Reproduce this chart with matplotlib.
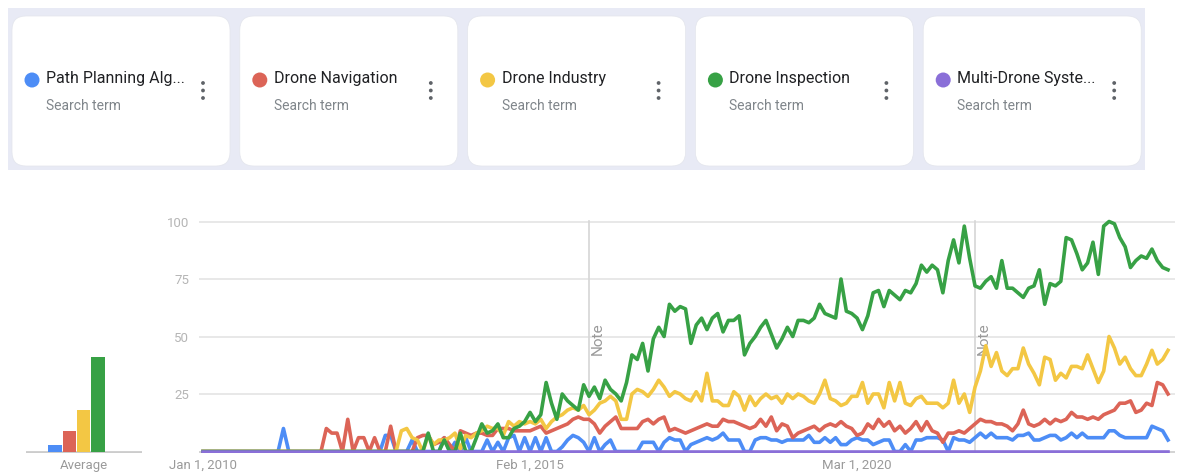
import numpy as np
import pandas as pd
import matplotlib
matplotlib.use("Agg")
import matplotlib.pyplot as plt
from matplotlib.patches import FancyBboxPatch, Rectangle, Circle

plt.rcParams['font.family'] = ['Roboto', 'DejaVu Sans']

# search terms shown in the top cards
terms = ["Path Planning Alg...", "Drone Navigation", "Drone Industry",
         "Drone Inspection", "Multi-Drone Syste..."]
colors = ["#4d8df6", "#dc6457", "#f3c744", "#37a145", "#8a6fd8"]

months = pd.date_range("2010-01-01", periods=181, freq="MS")
tick_dates = ["2010-01-01", "2015-02-01", "2020-03-01"]
tick_labels = ["Jan 1, 2010", "Feb 1, 2015", "Mar 1, 2020"]
note_dates = ["2016-01-01", "2022-01-01"]
averages = [3, 9, 18, 41, 0]

# monthly interest (0-100)
path_planning = [0, 0, 0, 0, 0, 0, 0, 0, 0, 0,
                 0, 0, 0, 0, 0, 10, 0, 0, 0, 0,
                 0, 0, 0, 0, 0, 0, 0, 0, 0, 0,
                 0, 0, 0, 0, 7, 7, 0, 0, 0, 5,
                 0, 0, 0, 0, 0, 6, 0, 4, 0, 6,
                 0, 0, 0, 5, 0, 4, 0, 6, 7, 0,
                 6, 0, 6, 0, 6, 0, 0, 2, 5, 7,
                 6, 4, 0, 6, 0, 3, 5, 0, 0, 0,
                 0, 0, 4, 4, 4, 0, 4, 6, 5, 5,
                 0, 3, 4, 5, 6, 5, 6, 8, 5, 5,
                 5, 0, 0, 5, 6, 6, 5, 5, 4, 5,
                 5, 5, 5, 7, 4, 4, 6, 4, 6, 3,
                 3, 5, 6, 5, 5, 3, 4, 5, 5, 0,
                 0, 3, 0, 5, 5, 6, 6, 6, 5, 0,
                 6, 5, 5, 4, 6, 8, 6, 8, 6, 6,
                 6, 5, 7, 7, 8, 5, 5, 6, 7, 7,
                 5, 6, 8, 6, 8, 6, 6, 6, 6, 9,
                 9, 7, 6, 6, 6, 6, 6, 11, 10, 9,
                 5]

navigation = [0, 0, 0, 0, 0, 0, 0, 0, 0, 0,
              0, 0, 0, 0, 0, 0, 0, 0, 0, 0,
              0, 0, 0, 10, 8, 8, 0, 14, 0, 6,
              6, 0, 6, 0, 0, 11, 0, 0, 0, 0,
              6, 7, 7, 3, 4, 6, 3, 0, 9, 8,
              7, 8, 8, 7, 7, 10, 10, 10, 9, 9,
              9, 9, 10, 11, 8, 9, 10, 11, 12, 14,
              15, 14, 14, 12, 8, 11, 13, 15, 10, 10,
              10, 10, 13, 14, 12, 14, 15, 9, 10, 9,
              8, 9, 10, 11, 12, 11, 11, 14, 13, 13,
              12, 11, 10, 11, 14, 11, 15, 9, 12, 11,
              6, 8, 9, 10, 11, 9, 11, 12, 11, 13,
              11, 10, 7, 8, 12, 10, 14, 11, 13, 9,
              11, 8, 10, 13, 9, 13, 9, 8, 4, 8,
              8, 9, 8, 10, 12, 14, 13, 13, 12, 12,
              11, 9, 12, 18, 12, 11, 12, 14, 12, 14,
              13, 14, 17, 15, 15, 14, 15, 14, 16, 17,
              18, 21, 21, 22, 17, 18, 21, 20, 30, 29,
              25]

industry = [0, 0, 0, 0, 0, 0, 0, 0, 0, 0,
            0, 0, 0, 0, 0, 0, 0, 0, 0, 0,
            0, 0, 0, 0, 0, 0, 0, 0, 0, 0,
            0, 0, 0, 0, 0, 0, 0, 9, 10, 6,
            5, 0, 7, 3, 5, 5, 6, 8, 1, 7,
            6, 8, 9, 11, 10, 10, 7, 13, 11, 13,
            12, 13, 12, 14, 10, 13, 15, 16, 18, 19,
            18, 20, 16, 18, 21, 22, 24, 22, 14, 14,
            25, 27, 26, 24, 27, 31, 28, 24, 26, 25,
            23, 22, 26, 22, 34, 22, 22, 20, 20, 26,
            24, 18, 24, 20, 23, 25, 23, 24, 21, 25,
            23, 25, 24, 22, 21, 25, 31, 23, 22, 20,
            21, 24, 24, 30, 21, 25, 25, 19, 30, 22,
            30, 21, 20, 23, 24, 21, 21, 21, 19, 21,
            31, 21, 25, 17, 28, 35, 46, 37, 43, 35,
            33, 36, 36, 45, 38, 34, 29, 41, 40, 31,
            34, 32, 37, 37, 36, 42, 36, 30, 35, 50,
            45, 38, 41, 36, 33, 33, 38, 44, 38, 40,
            44]

inspection = [0, 0, 0, 0, 0, 0, 0, 0, 0, 0,
              0, 0, 0, 0, 0, 0, 0, 0, 0, 0,
              0, 0, 0, 0, 0, 0, 0, 0, 0, 0,
              0, 0, 0, 0, 0, 0, 0, 0, 0, 0,
              0, 0, 8, 0, 0, 5, 0, 0, 8, 0,
              0, 6, 12, 8, 9, 12, 6, 6, 10, 11,
              13, 17, 13, 16, 30, 21, 14, 25, 22, 20,
              18, 29, 24, 28, 23, 31, 27, 25, 22, 30,
              42, 40, 47, 35, 49, 54, 50, 64, 61, 63,
              62, 47, 55, 58, 53, 58, 60, 52, 57, 57,
              59, 42, 47, 50, 54, 57, 51, 45, 49, 54,
              50, 57, 57, 56, 58, 64, 60, 59, 58, 75,
              61, 60, 58, 53, 59, 69, 70, 63, 70, 68,
              66, 70, 69, 73, 81, 78, 81, 79, 69, 83,
              92, 82, 98, 84, 72, 71, 74, 76, 71, 83,
              71, 71, 69, 67, 71, 72, 79, 64, 73, 72,
              74, 93, 92, 86, 79, 82, 91, 77, 98, 100,
              99, 93, 89, 80, 83, 85, 84, 88, 83, 80,
              79]

multi_drone = [0] * 181

series = [path_planning, navigation, industry, inspection, multi_drone]

fig = plt.figure(figsize=(11.79, 4.73), dpi=100)
W, H = 1179, 473

# ---- top strip with the search term cards (pixel coordinates) ----
top = fig.add_axes([0, 0, 1, 1])
top.set_xlim(0, W)
top.set_ylim(H, 0)
top.axis("off")
top.add_patch(Rectangle((8, 8), 1137, 162, color="#e8eaf5", lw=0))
card_w, card_h, r = 218, 150, 14
for k, (term, col) in enumerate(zip(terms, colors)):
    x0 = 12 + 227.8 * k
    top.add_patch(FancyBboxPatch((x0 + r, 16 + r), card_w - 2 * r, card_h - 2 * r,
                                 boxstyle=f"round,pad={r}", fc="white", ec="#e3e5ec", lw=0.5))
    top.add_patch(Circle((x0 + 20, 80), 7.5, color=col, lw=0))
    top.text(x0 + 34, 79, term, fontsize=11.5, color="#202124", va="center", ha="left")
    top.text(x0 + 34, 106, "Search term", fontsize=10, color="#80868b", va="center", ha="left")
    for yy in (83, 90.5, 98):
        top.add_patch(Circle((x0 + 191, yy), 1.9, color="#5f6368", lw=0))

# ---- main time series ----
ax_bottom = 1 - 452.65 / H
ax_height = 235.75 / H
ax = fig.add_axes([199 / W, ax_bottom, 976 / W, ax_height])
x = np.arange(len(months))
ax.set_xlim(-0.75, 181.3)
ax.set_ylim(-0.5, 102)
for gy in [25, 50, 75, 100]:
    ax.axhline(gy, color="#e6e6e6", lw=1.3, zorder=0)
ax.axhline(0, color="#d0d0d0", lw=1.3, zorder=0)
for nd in note_dates:
    ni = months.get_loc(pd.Timestamp(nd))
    ax.axvline(ni, ymin=0, ymax=100.5 / 102.5, color="#d6d6d6", lw=1.2, zorder=0)
    ax.text(ni + 1.7, 49, "Note", rotation=90, ha="center", va="center",
            fontsize=11, color="#9a9a9a", zorder=1)
for k, (vals, col) in enumerate(zip(series, colors)):
    ax.plot(x, vals, color=col, lw=2.6, zorder=2 + k)
ax.set_yticks([25, 50, 75, 100])
ax.set_yticklabels(["25", "50", "75", "100"])
ax.set_xticks([months.get_loc(pd.Timestamp(d)) for d in tick_dates])
ax.set_xticklabels(tick_labels)
ax.tick_params(axis="y", length=0, pad=7, labelsize=9.5, labelcolor="#b5b5b5")
ax.tick_params(axis="x", length=0, pad=4.5, labelsize=9.5, labelcolor="#9a9a9a")
for s in ax.spines.values():
    s.set_visible(False)

# ---- average bars ----
axb = fig.add_axes([26 / W, ax_bottom, 116 / W, ax_height])
axb.set_xlim(-2.03, 6.07)
axb.set_ylim(-0.5, 102)
axb.bar(np.arange(len(averages)), averages, width=0.94, color=colors, zorder=2)
axb.axhline(-0.4, color="#cccccc", lw=2, zorder=1)
axb.set_xticks([2])
axb.set_xticklabels(["Average"])
axb.set_yticks([])
axb.tick_params(axis="x", length=0, pad=4.5, labelsize=9.5, labelcolor="#9a9a9a")
for s in axb.spines.values():
    s.set_visible(False)

fig.savefig("out.png", dpi=100)
